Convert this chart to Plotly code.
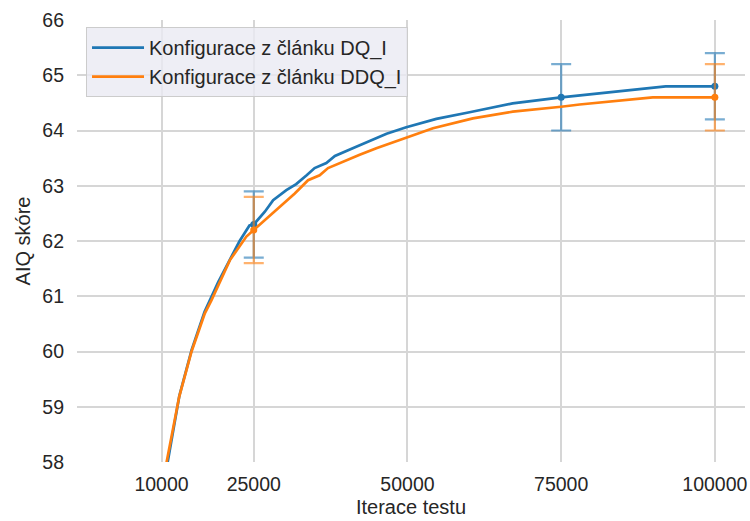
import plotly.graph_objects as go

# Learning curves (AIQ score vs. test iteration)
dq_x = [10000, 11000, 12900, 14900, 17000, 19200, 21100, 22700, 24300, 25000,
        26800, 28150, 30300, 31900, 33600, 34900, 36800, 38200, 41100, 44400,
        46600, 49800, 54700, 60100, 67100, 75000, 80000, 86000, 92000, 100000]
dq_y = [57.5, 58.0, 59.2, 60.03, 60.72, 61.25, 61.66, 62.0, 62.28, 62.3,
        62.53, 62.74, 62.92, 63.03, 63.19, 63.32, 63.41, 63.54, 63.68, 63.83,
        63.94, 64.06, 64.21, 64.33, 64.49, 64.6, 64.66, 64.73, 64.8, 64.8]

ddq_x = [10000, 10820, 12870, 14880, 17040, 18130, 19200, 21100, 23800, 25000,
         27600, 29770, 31670, 33830, 35720, 37080, 39520, 42230, 44940, 48720,
         54150, 60640, 67130, 75000, 78000, 89900, 100000]
ddq_y = [57.52, 58.0, 59.18, 60.0, 60.69, 60.93, 61.2, 61.65, 62.08, 62.2,
         62.47, 62.68, 62.86, 63.1, 63.19, 63.32, 63.44, 63.56, 63.68, 63.83,
         64.04, 64.22, 64.34, 64.43, 64.47, 64.6, 64.6]

# Evaluated checkpoints with standard deviation
dq_err_x = [25000, 75000, 100000]
dq_err_y = [62.3, 64.6, 64.8]
dq_err_sd = [0.6, 0.6, 0.6]

ddq_err_x = [25000, 100000]
ddq_err_y = [62.2, 64.6]
ddq_err_sd = [0.6, 0.6]

names = ["Konfigurace z článku DQ_I", "Konfigurace z článku DDQ_I"]
x_ticks = [10000, 25000, 50000, 75000, 100000]
y_ticks = [58, 59, 60, 61, 62, 63, 64, 65, 66]

BLUE = "#1f77b4"
ORANGE = "#ff7f0e"
FONT = "Liberation Sans, Arial, sans-serif"
TXT = "#262626"

fig = go.Figure()

series = [
    (dq_x, dq_y, dq_err_x, dq_err_y, dq_err_sd, BLUE, "rgba(31,119,180,0.6)", names[0]),
    (ddq_x, ddq_y, ddq_err_x, ddq_err_y, ddq_err_sd, ORANGE, "rgba(255,127,14,0.6)", names[1]),
]
for i, (lx, ly, ex, ey, es, col, ecol, name) in enumerate(series):
    fig.add_trace(go.Scatter(
        x=lx, y=ly, mode="lines", name=name, legendgroup=f"g{i}",
        line=dict(color=col, width=2.7),
    ))
    fig.add_trace(go.Scatter(
        x=ex, y=ey, mode="markers", showlegend=False, legendgroup=f"g{i}",
        marker=dict(color=col, size=7),
        error_y=dict(type="data", array=es, visible=True,
                     color=ecol, thickness=2.2, width=10),
    ))

fig.update_layout(
    width=750, height=521,
    margin=dict(l=77, r=5, t=20, b=59),
    paper_bgcolor="white", plot_bgcolor="white",
    font=dict(family=FONT, size=20, color=TXT),
    showlegend=True,
    legend=dict(
        x=0.0135, y=0.984, xanchor="left", yanchor="top",
        bgcolor="rgba(234,234,242,0.8)", bordercolor="#cccccc", borderwidth=1,
        font=dict(family=FONT, size=20, color=TXT),
        itemwidth=52, tracegroupgap=0,
    ),
    xaxis=dict(
        range=[-3750, 104900], automargin=False,
        tickvals=x_ticks, ticktext=[str(v) for v in x_ticks],
        showgrid=True, gridcolor="#d6d6d6", gridwidth=1.5,
        zeroline=False, showline=False,
        ticklabelstandoff=8,
        tickfont=dict(size=19.5),
        title=dict(text="Iterace testu", font=dict(size=20), standoff=6),
    ),
    yaxis=dict(
        range=[58, 66], automargin=False,
        tickvals=y_ticks,
        showgrid=True, gridcolor="#d6d6d6", gridwidth=1.5,
        zeroline=False, showline=False,
        ticklabelstandoff=12,
        tickfont=dict(size=19.5),
        title=dict(text="AIQ skóre", font=dict(size=20), standoff=6),
    ),
)

fig.write_html("out.html")
